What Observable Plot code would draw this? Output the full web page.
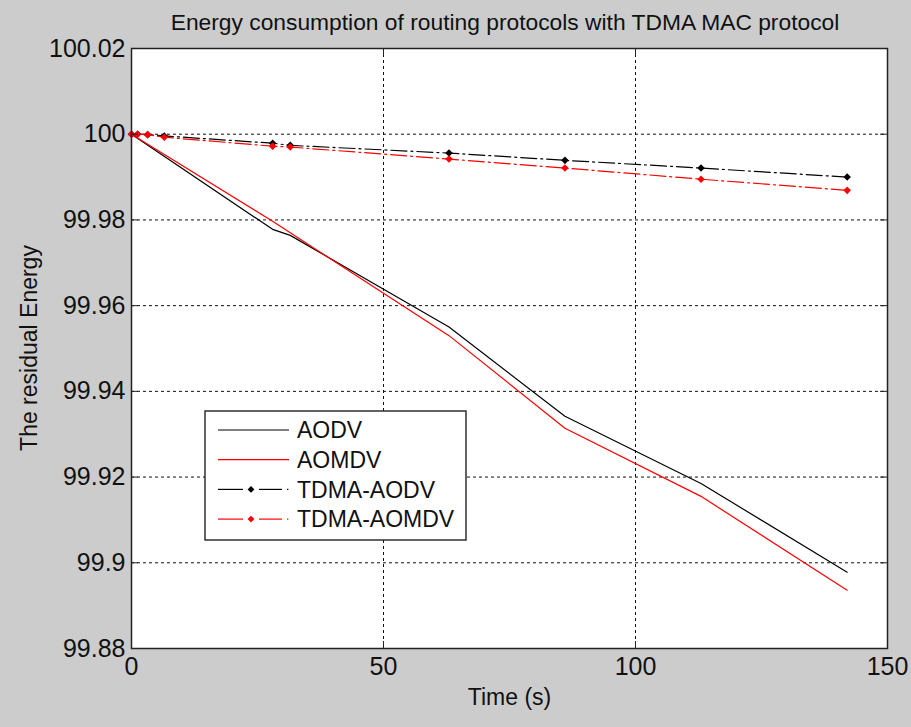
<!DOCTYPE html>
<html><head><meta charset="utf-8">
<script src="https://cdn.jsdelivr.net/npm/d3@7"></script>
<script src="https://cdn.jsdelivr.net/npm/@observablehq/plot@0.6"></script>
<style>
html,body{margin:0;padding:0;background:#fff;}
#fig{position:relative;width:911px;height:727px;background:#cccccc;font-family:"Liberation Sans",Arial,sans-serif;overflow:hidden;}
svg{display:block;}
</style></head>
<body>
<div id="fig"></div>
<script>
// Data
const time = [0, 28, 31.5, 63, 86, 113, 142];
const aodv = [100, 99.9778, 99.9764, 99.955, 99.9342, 99.9185, 99.8978];
const aomdv = [100, 99.9797, 99.977, 99.953, 99.9314, 99.9155, 99.8936];
const tdmaTime = [0, 1.2, 3.2, 6.5, 28, 31.5, 63, 86, 113, 142];
const tdmaAodv = [100, 100, 99.9999, 99.9996, 99.9979, 99.9974, 99.9956, 99.9939, 99.9921, 99.9900];
const tdmaAomdv = [100, 100, 99.9999, 99.9993, 99.9972, 99.9970, 99.9942, 99.9921, 99.9895, 99.9869];
const xTicks = [0, 50, 100, 150];
const yTicks = [99.88, 99.9, 99.92, 99.94, 99.96, 99.98, 100, 100.02];
const seriesNames = ["AODV", "AOMDV", "TDMA-AODV", "TDMA-AOMDV"];
const seriesColors = ["#000000", "#ff0000", "#000000", "#ff0000"];
const titleText = "Energy consumption of routing protocols with TDMA MAC protocol";
const xLabel = "Time (s)";
const yLabel = "The residual Energy";

const solid = [
  ...time.map((t, i) => ({t, v: aodv[i], s: "AODV"})),
  ...time.map((t, i) => ({t, v: aomdv[i], s: "AOMDV"}))
];
const tdma = [
  ...tdmaTime.map((t, i) => ({t, v: tdmaAodv[i], s: "TDMA-AODV"})),
  ...tdmaTime.map((t, i) => ({t, v: tdmaAomdv[i], s: "TDMA-AOMDV"}))
];

const W = 911, H = 727;
const mT = 48, mB = 79, mL = 131, mR = 24;
const fh = H - mT - mB, fw = W - mL - mR;
const tick = 7;
const dash = "16,4,2,4";

const chart = Plot.plot({
  width: W, height: H,
  marginTop: mT, marginBottom: mB, marginLeft: mL, marginRight: mR,
  style: {background: "transparent", fontFamily: "'Liberation Sans', Arial, sans-serif", color: "#111"},
  x: {domain: [0, 150]},
  y: {domain: [99.88, 100.02]},
  color: {domain: seriesNames, range: seriesColors},
  marks: [
    Plot.frame({fill: "white", stroke: "none"}),
    Plot.gridX(xTicks.slice(1, -1), {stroke: "#111", strokeOpacity: 1, strokeDasharray: "3,3"}),
    Plot.gridY(yTicks.slice(1, -1), {stroke: "#111", strokeOpacity: 1, strokeDasharray: "3,3"}),
    Plot.line(solid, {x: "t", y: "v", z: "s", stroke: "s", strokeWidth: 1.2}),
    Plot.line(tdma, {x: "t", y: "v", z: "s", stroke: "s", strokeWidth: 1.2, strokeDasharray: dash}),
    Plot.dot(tdma, {x: "t", y: "v", fill: "s", symbol: "diamond2", r: 3.4}),
    Plot.ruleX(xTicks, {insetTop: fh - tick, stroke: "#222"}),
    Plot.ruleX(xTicks, {insetBottom: fh - tick, stroke: "#222"}),
    Plot.ruleY(yTicks, {insetRight: fw - tick, stroke: "#222"}),
    Plot.ruleY(yTicks, {insetLeft: fw - tick, stroke: "#222"}),
    Plot.frame({stroke: "#222", strokeWidth: 1.5}),
    Plot.axisX(xTicks, {tickSize: 0, tickPadding: 9, fontSize: 25, label: null}),
    Plot.axisY(yTicks, {tickSize: 0, tickPadding: 6, fontSize: 25, label: null, tickFormat: d => String(+d.toFixed(2))}),
    Plot.text([xLabel], {frameAnchor: "bottom", dy: 49, fontSize: 23, lineAnchor: "middle"})
  ]
});
document.getElementById("fig").appendChild(chart);

const svg = d3.select(chart);
// Title and y-axis label
svg.append("text").attr("x", mL + fw / 2 - 4).attr("y", 22).attr("dy", "0.35em")
  .attr("text-anchor", "middle").attr("font-size", 22.8).attr("fill", "#111").text(titleText);
svg.append("text").attr("transform", `translate(29,${mT + fh / 2}) rotate(-90)`).attr("dy", "0.35em")
  .attr("text-anchor", "middle").attr("font-size", 23).attr("fill", "#111").text(yLabel);

// Legend (inside the axes)
const lg = svg.append("g").attr("transform", "translate(205,411)");
lg.append("rect").attr("x", 0).attr("y", 0).attr("width", 261).attr("height", 129)
  .attr("fill", "white").attr("stroke", "#222").attr("stroke-width", 1.4);
seriesNames.forEach((name, i) => {
  const y = 19 + i * 29.7;
  const c = seriesColors[i];
  if (i < 2) {
    lg.append("line").attr("x1", 13).attr("x2", 84).attr("y1", y).attr("y2", y)
      .attr("stroke", c).attr("stroke-width", 1.2);
  } else {
    lg.append("line").attr("x1", 13).attr("x2", 38).attr("y1", y).attr("y2", y).attr("stroke", c).attr("stroke-width", 1.2);
    lg.append("line").attr("x1", 54).attr("x2", 77).attr("y1", y).attr("y2", y).attr("stroke", c).attr("stroke-width", 1.2);
    lg.append("rect").attr("x", 82).attr("y", y - 0.6).attr("width", 1.4).attr("height", 1.2).attr("fill", c);
    lg.append("path").attr("d", d3.symbol(d3.symbolDiamond2, 30)()).attr("transform", `translate(46,${y})`).attr("fill", c);
  }
  lg.append("text").attr("x", 92).attr("y", y).attr("dy", "0.36em").attr("text-anchor", "start")
    .attr("font-size", 23).attr("fill", "#111").text(name);
});
</script>
</body></html>
